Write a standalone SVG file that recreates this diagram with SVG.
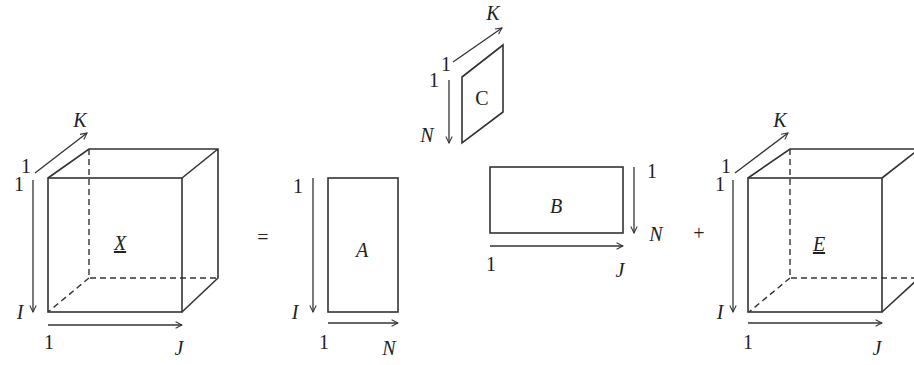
<svg xmlns="http://www.w3.org/2000/svg" width="914" height="365" viewBox="0 0 914 365">
<style>
.s{fill:none;stroke:#333;stroke-width:1.6}
.d{fill:none;stroke:#333;stroke-width:1.4;stroke-dasharray:6,4}
.a{fill:none;stroke:#333;stroke-width:1.3;marker-end:url(#ah)}
text{font-family:"Liberation Serif","Times New Roman",serif;font-size:20px;fill:#222}
.i{font-style:italic}
.m{text-anchor:middle}
</style>
<defs>
<marker id="ah" viewBox="0 0 10 10" refX="9" refY="5" markerWidth="8" markerHeight="8" markerUnits="userSpaceOnUse" orient="auto">
<path d="M1,1 L9,5 L1,9" fill="none" stroke="#333" stroke-width="1.3"/>
</marker>
</defs>
<rect width="914" height="365" fill="#fff"/>
<g id="cubeX">
<path class="d" d="M89,149 V278 H218 M89,278 L48,312"/>
<rect class="s" x="48" y="178" width="134" height="134"/>
<path class="s" d="M48,178 L89,149 H218 V278 L182,312 M182,178 L218,149"/>
<text class="i m" x="120" y="250" text-decoration="underline">X</text>
</g>
<g id="matA">
<rect class="s" x="328" y="178" width="70" height="134"/>
<text class="i m" x="362" y="257">A</text>
</g>
<g id="matC">
<path class="s" d="M462,77 L503,45 V112 L462,143 Z"/>
<text class="m" x="482" y="105">C</text>
</g>
<g id="matB">
<rect class="s" x="490" y="167" width="133" height="66"/>
<text class="i m" x="556" y="213">B</text>
</g>
<g id="cubeE">
<path class="d" d="M790,149 V278 H919 M790,278 L749,312"/>
<rect class="s" x="748" y="178" width="134" height="134"/>
<path class="s" d="M748,178 L790,149 H919 M919,278 L882,312 M882,178 L919,149"/>
<text class="i m" x="819" y="251" text-decoration="underline">E</text>
</g>
<g id="operators">
<text class="m" x="263" y="244">=</text>
<text class="m" x="699" y="240">+</text>
</g>
<g id="connectors">
<line class="a" x1="35" y1="173" x2="87" y2="133"/>
<line class="a" x1="33" y1="180" x2="33" y2="312"/>
<line class="a" x1="48" y1="325" x2="182" y2="325"/>
<line class="a" x1="313" y1="178" x2="313" y2="312"/>
<line class="a" x1="328" y1="323" x2="398" y2="323"/>
<line class="a" x1="453" y1="62" x2="502" y2="28"/>
<line class="a" x1="449" y1="80" x2="449" y2="143"/>
<line class="a" x1="634" y1="167" x2="634" y2="233"/>
<line class="a" x1="490" y1="246" x2="623" y2="246"/>
<line class="a" x1="735" y1="173" x2="788" y2="133"/>
<line class="a" x1="733" y1="180" x2="733" y2="312"/>
<line class="a" x1="748" y1="323" x2="882" y2="323"/>
</g>
<g id="labels">
<text class="i m" x="80" y="127">K</text>
<text class="m" x="26" y="173">1</text>
<text class="m" x="19" y="191">1</text>
<text class="i m" x="20" y="319">I</text>
<text class="m" x="49" y="349">1</text>
<text class="i m" x="179" y="355">J</text>
<text class="m" x="298" y="193">1</text>
<text class="i m" x="295" y="319">I</text>
<text class="m" x="324" y="349">1</text>
<text class="i m" x="389" y="355">N</text>
<text class="i m" x="493" y="20">K</text>
<text class="m" x="446" y="71">1</text>
<text class="m" x="434" y="87">1</text>
<text class="i m" x="427" y="142">N</text>
<text class="m" x="652" y="178">1</text>
<text class="i m" x="656" y="241">N</text>
<text class="m" x="491" y="271">1</text>
<text class="i m" x="620" y="277">J</text>
<text class="i m" x="780" y="127">K</text>
<text class="m" x="726" y="173">1</text>
<text class="m" x="720" y="191">1</text>
<text class="i m" x="720" y="319">I</text>
<text class="m" x="748" y="349">1</text>
<text class="i m" x="877" y="355">J</text>
</g>
</svg>
